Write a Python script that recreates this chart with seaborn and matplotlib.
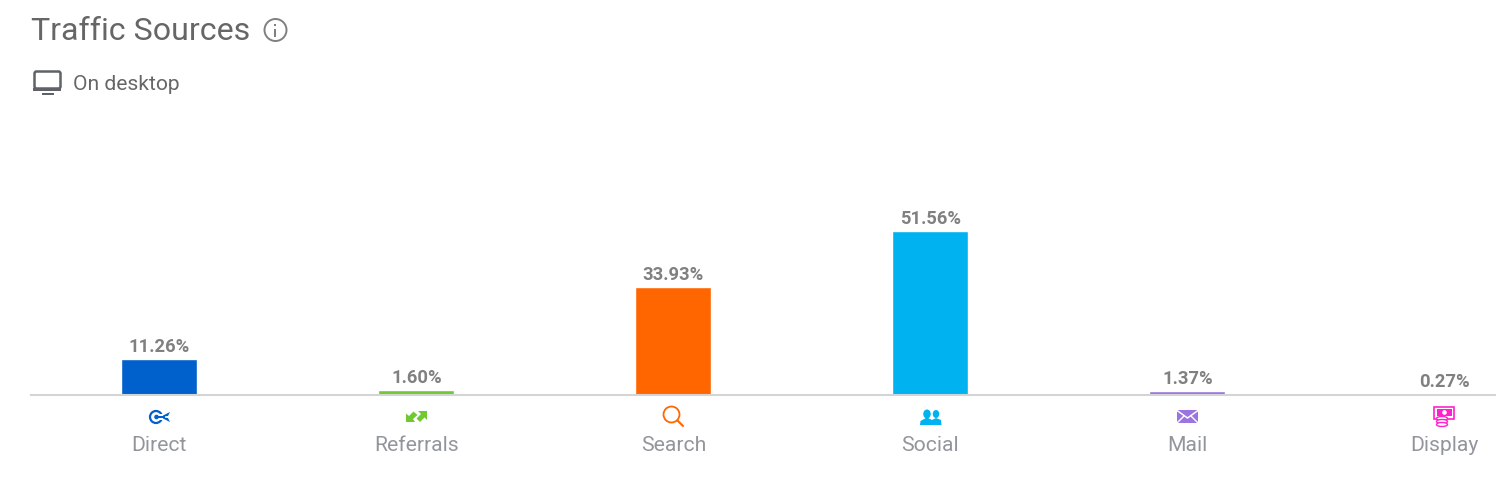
import numpy as np
import pandas as pd
import matplotlib
matplotlib.use('Agg')
import matplotlib.pyplot as plt
from matplotlib.patches import Circle, Rectangle, Polygon, Ellipse, FancyBboxPatch
import seaborn as sns

# values
sources = ['Direct', 'Referrals', 'Search', 'Social', 'Mail', 'Display']
shares = [11.26, 1.60, 33.93, 51.56, 1.37, 0.27]
share_labels = ['11.26%', '1.60%', '33.93%', '51.56%', '1.37%', '0.27%']
colours = ['#0061cc', '#6fc931', '#ff6600', '#00b2f0', '#9a75e0', '#ff22cc']

W, H = 1496, 489

sns.set_theme(style='white')
plt.rcParams['font.family'] = ['Roboto', 'DejaVu Sans']

df = pd.DataFrame({'source': sources, 'share': shares})

fig = plt.figure(figsize=(W / 100, H / 100), dpi=100)
ax = fig.add_axes([31 / W, (H - 396) / H, (W - 31) / W, 296 / H])

sns.barplot(data=df, x='source', y='share', hue='source', order=sources, hue_order=sources,
            palette=colours, legend=False, width=76 / 257, saturation=1, ax=ax)

ax.set_xlim(-0.497, 5.203)
ax.set_ylim(0, 296 / 3.19)
ax.set_xlabel('')
ax.set_ylabel('')
ax.set_yticks([])
ax.set_xticks([])
sns.despine(ax=ax, left=True)
ax.spines['bottom'].set_color('#d4d4d4')
ax.spines['bottom'].set_linewidth(1.5)

# value labels and category names
for i, (v, lab) in enumerate(zip(shares, share_labels)):
    ax.annotate(lab, (i, v), xytext=(0.5, 4), textcoords='offset pixels', ha='center', va='bottom',
                fontsize=13.2, fontweight='bold', color='#808080')
    ax.annotate(sources[i], (i, 0), xytext=(0.5, -49.5), textcoords='offset pixels', ha='center', va='center',
                fontsize=15.2, color='#92969c')

# overlay in pixel coordinates for header and icons
ov = fig.add_axes([0, 0, 1, 1], facecolor='none')
ov.set_xlim(0, W)
ov.set_ylim(H, 0)
ov.axis('off')

ov.text(31, 31, 'Traffic Sources', fontsize=23.1, color='#666666', va='center', ha='left')
ov.text(73, 84, 'On desktop', fontsize=15.1, color='#666666', va='center', ha='left')

# info icon
ov.add_patch(Circle((275.5, 31), 11, fill=False, ec='#808080', lw=1.4))
ov.add_patch(Rectangle((274.5, 30), 2, 8, color='#808080', lw=0))
ov.add_patch(Rectangle((274.5, 25), 2, 2, color='#808080', lw=0))

# monitor icon
ov.add_patch(FancyBboxPatch((34.5, 72.5), 26, 17, boxstyle='round,pad=0,rounding_size=2',
                            fill=False, ec='#5f6368', lw=1.8))
ov.add_patch(Rectangle((33.5, 89), 28, 2.5, color='#5f6368', lw=0))
ov.add_patch(Rectangle((42, 94), 12, 1.8, color='#5f6368', lw=0))

# direct icon
c = colours[0]
ov.add_patch(Circle((156, 418), 6, fill=False, ec=c, lw=1.6))
ov.add_patch(Circle((156.5, 418), 2.3, color=c, lw=0))
ov.add_patch(Rectangle((159, 415), 5, 6, color='white', lw=0))
ov.add_patch(Rectangle((157, 417), 8, 2, color=c, lw=0))
ov.add_patch(Polygon([(163, 416.5), (170, 413), (168, 417), (163, 417.5)], color=c, lw=0))
ov.add_patch(Polygon([(163, 419.5), (170, 423), (168, 419), (163, 418.5)], color=c, lw=0))

# referrals icon
c = colours[1]
ov.add_patch(Polygon([(406, 423), (406, 414.5), (409, 417), (413.5, 412.5), (417.5, 416), (413, 420), (415, 423)],
                     color=c, lw=0))
ov.add_patch(Polygon([(427, 412), (427, 421), (424.5, 418.5), (420, 423), (416.5, 419.5), (421, 415), (418, 412)],
                     color=c, lw=0))

# search icon
c = colours[2]
ov.add_patch(Circle((671.5, 415.5), 8, fill=False, ec=c, lw=1.3))
ov.plot([677.5, 683], [421.5, 427], color=c, lw=1.5, solid_capstyle='round')

# social icon
c = colours[3]
ov.add_patch(Ellipse((936, 415), 6.5, 8, color=c, lw=0))
ov.add_patch(Polygon([(932, 426), (932, 421), (936, 419), (941, 421), (941.5, 426)], color=c, lw=0))
ov.add_patch(Ellipse((927, 415), 8, 9.5, color='white', ec='white', lw=1))
ov.add_patch(Ellipse((927, 415), 7.5, 9, color=c, lw=0))
ov.add_patch(Polygon([(920, 426), (920.5, 422), (926, 419), (928, 419), (934, 422), (934.5, 426)], color=c, lw=0))

# mail icon
c = colours[4]
ov.add_patch(Rectangle((1177, 411), 21, 13, color=c, lw=0))
ov.plot([1177, 1187.5, 1198], [411.5, 419, 411.5], color='white', lw=1.1)
ov.plot([1177, 1184], [424, 417], color='white', lw=1)
ov.plot([1198, 1191], [424, 417], color='white', lw=1)

# display icon
c = colours[5]
ov.add_patch(Rectangle((1434.5, 407.5), 20, 12, fill=False, ec=c, lw=1.2))
ov.add_patch(Rectangle((1437, 410), 15, 7, color=c, lw=0))
ov.add_patch(Circle((1444.5, 413.5), 2.3, color='white', lw=0))
for y in [419.5, 422.5, 425.5]:
    ov.add_patch(Ellipse((1442, y), 11, 4, fc='white', ec=c, lw=1))

fig.savefig('out.png', dpi=100)
